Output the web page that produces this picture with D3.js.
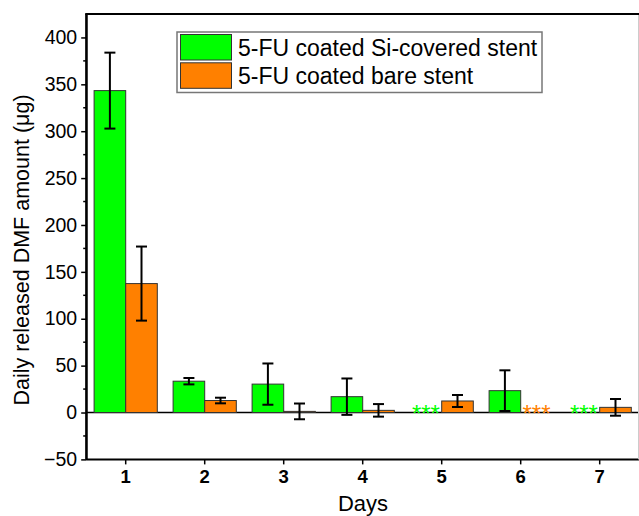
<!DOCTYPE html>
<html>
<head>
<meta charset="utf-8">
<script src="https://cdn.jsdelivr.net/npm/d3@7"></script>
<style>
  html, body { margin: 0; padding: 0; background: #fff; }
  svg { display: block; font-family: Arial, "Liberation Sans", sans-serif; }
</style>
</head>
<body>
<svg id="chart" width="639" height="516"></svg>
<script>
// Daily released amount per day, two stent types
const days = ["1", "2", "3", "4", "5", "6", "7"];
const seriesNames = ["5-FU coated Si-covered stent", "5-FU coated bare stent"];
const seriesColors = ["#00ff00", "#ff8000"];
// mean values (µg); null = below detection (marked ***)
const siCovered = [343.3, 33.4, 30.3, 16.9, null, 23.3, null];
const siCoveredErr = [40.5, 3.4, 22.0, 19.4, null, 21.7, null];
const bare = [137.5, 12.8, 1.2, 2.3, 12.3, null, 5.5];
const bareErr = [39.5, 3.0, 8.4, 6.7, 6.4, null, 8.9];
const yTicks = [-50, 0, 50, 100, 150, 200, 250, 300, 350, 400];

const svg = d3.select("#chart");
const plotLeft = 86.2, plotRight = 639.2, plotTop = 14, plotBottom = 459.4;

const x0 = d3.scaleBand().domain(days).range([plotLeft, plotRight]).padding(0);
const x1 = d3.scaleBand().domain([0, 1])
  .range([x0.bandwidth() * 0.1, x0.bandwidth() * 0.9]).padding(0);
const y = d3.scaleLinear().domain([-50, 425]).range([plotBottom, plotTop]);

const series = [
  { vals: siCovered, errs: siCoveredErr },
  { vals: bare, errs: bareErr }
];

// zero line
svg.append("line")
  .attr("x1", plotLeft).attr("x2", 639).attr("y1", y(0)).attr("y2", y(0))
  .attr("stroke", "#000").attr("stroke-width", 1.5);

// bars
series.forEach((s, si) => {
  const g = svg.append("g");
  days.forEach((d, i) => {
    const v = s.vals[i];
    const bx = x0(d) + x1(si);
    const bw = x1.bandwidth();
    if (v === null) {
      g.append("text")
        .attr("x", bx + bw / 2).attr("y", y(0) + 9)
        .attr("text-anchor", "middle")
        .attr("font-size", 24)
        .attr("fill", seriesColors[si])
        .text("***");
      return;
    }
    g.append("rect")
      .attr("x", bx).attr("width", bw)
      .attr("y", y(Math.max(v, 0))).attr("height", Math.abs(y(v) - y(0)))
      .attr("fill", seriesColors[si])
      .attr("stroke", "#333").attr("stroke-width", 1);
  });
});

// error bars
series.forEach((s, si) => {
  days.forEach((d, i) => {
    const v = s.vals[i];
    if (v === null) return;
    const e = s.errs[i];
    const cx = x0(d) + x1(si) + x1.bandwidth() / 2;
    const g = svg.append("g").attr("stroke", "#000").attr("stroke-width", 2);
    g.append("line").attr("x1", cx).attr("x2", cx).attr("y1", y(v + e)).attr("y2", y(v - e));
    [v + e, v - e].forEach(t => {
      g.append("line").attr("x1", cx - 5.5).attr("x2", cx + 5.5).attr("y1", y(t)).attr("y2", y(t));
    });
  });
});

// y axis
const yAxis = svg.append("g").attr("transform", `translate(${plotLeft},0)`)
  .call(d3.axisLeft(y).tickValues(yTicks).tickSize(5).tickPadding(4).tickSizeOuter(0));
yAxis.select(".domain").attr("stroke-width", 2);
yAxis.selectAll(".tick line").attr("stroke-width", 1.5);
yAxis.selectAll("text").attr("font-size", 19.5).attr("font-family", "Arial, 'Liberation Sans', sans-serif").attr("fill", "#000");
// minor ticks
svg.append("g").attr("transform", `translate(${plotLeft},0)`)
  .selectAll("line").data(d3.range(-25, 425, 50)).join("line")
  .attr("x1", -3).attr("x2", 0).attr("y1", d => y(d)).attr("y2", d => y(d))
  .attr("stroke", "#000").attr("stroke-width", 1.5);
// extend the left axis to the top frame
svg.append("line").attr("x1", plotLeft).attr("x2", plotLeft).attr("y1", plotTop).attr("y2", plotBottom)
  .attr("stroke", "#000").attr("stroke-width", 2);

// x axis
const xAxis = svg.append("g").attr("transform", `translate(0,${plotBottom})`)
  .call(d3.axisBottom(x0).tickSize(5).tickPadding(5).tickSizeOuter(0));
xAxis.select(".domain").attr("stroke-width", 2).attr("d", `M${plotLeft},0H639`);
xAxis.selectAll(".tick line").attr("stroke-width", 1.5);
xAxis.selectAll("text").attr("font-size", 18.5).attr("font-weight", "bold")
  .attr("font-family", "Arial, 'Liberation Sans', sans-serif").attr("fill", "#000");

// top frame and right border
svg.append("line").attr("x1", plotLeft - 1).attr("x2", 639).attr("y1", plotTop).attr("y2", plotTop)
  .attr("stroke", "#000").attr("stroke-width", 2);
svg.append("line").attr("x1", 638.5).attr("x2", 638.5).attr("y1", plotTop + 1).attr("y2", plotBottom)
  .attr("stroke", "#ccc").attr("stroke-width", 1);

// axis titles
svg.append("text")
  .attr("transform", "translate(29,250) rotate(-90)")
  .attr("text-anchor", "middle").attr("font-size", 21.5)
  .text("Daily released DMF amount (\u03bcg)");
svg.append("text")
  .attr("x", 363).attr("y", 510.5).attr("text-anchor", "middle").attr("font-size", 22)
  .text("Days");

// legend
const lg = svg.append("g");
lg.append("rect").attr("x", 177).attr("y", 32).attr("width", 365).attr("height", 60.5)
  .attr("fill", "#fff").attr("stroke", "#777").attr("stroke-width", 1.5);
seriesNames.forEach((name, i) => {
  const ry = 34.5 + i * 28.3;
  lg.append("rect").attr("x", 180.5).attr("y", ry).attr("width", 51).attr("height", 25.5)
    .attr("fill", seriesColors[i]).attr("stroke", "#333").attr("stroke-width", 1);
  lg.append("text").attr("x", 238).attr("y", ry + 21).attr("font-size", 23).text(name);
});
</script>
</body>
</html>
